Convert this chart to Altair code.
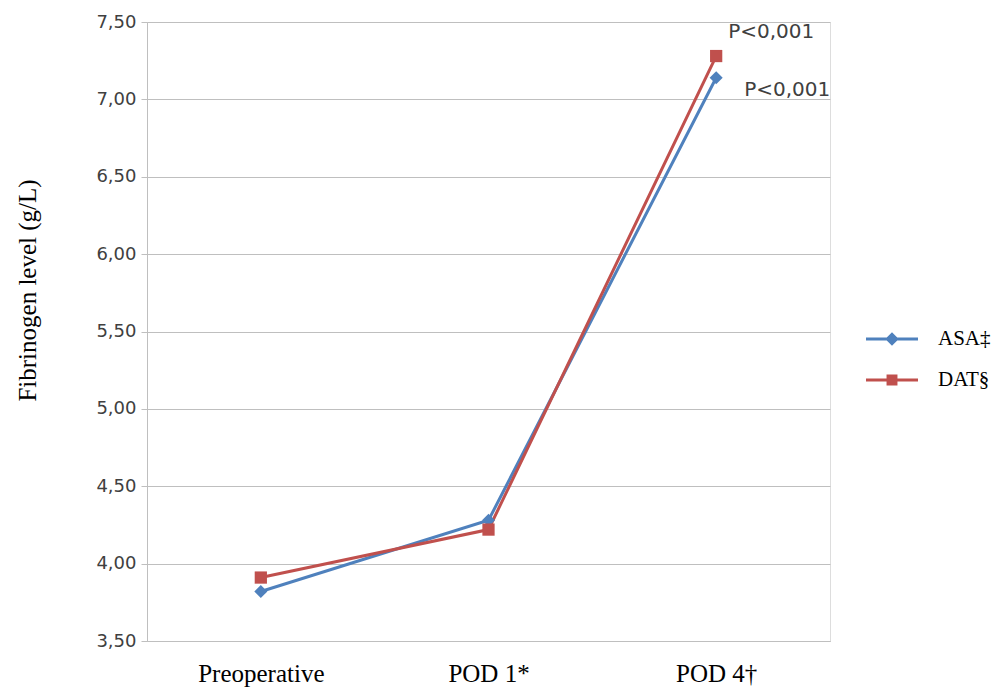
import altair as alt
import pandas as pd

categories = ["Preoperative", "POD 1*", "POD 4†"]
series_names = ["ASA‡", "DAT§"]
asa_values = [3.82, 4.28, 7.14]
dat_values = [3.91, 4.22, 7.28]
colors = ["#4F81BD", "#C0504D"]

ann_series = ["DAT§", "ASA‡"]
ann_text = ["P<0,001", "P<0,001"]

rows = []
for s, vals in zip(series_names, [asa_values, dat_values]):
    for c, v in zip(categories, vals):
        rows.append({"time": c, "series": s, "value": v})
df = pd.DataFrame(rows)

ann_rows = []
for s, t in zip(ann_series, ann_text):
    v = (asa_values if s == "ASA‡" else dat_values)[2]
    ann_rows.append({"time": categories[2], "series": s, "value": v, "label": t})
ann_df = pd.DataFrame(ann_rows)

leg_paths = [
    "M-1,-0.06H1V0.06H-1Z M0,-0.26L0.26,0L0,0.26L-0.26,0Z",
    "M-1,-0.06H1V0.06H-1Z M-0.21,-0.21H0.21V0.21H-0.21Z",
]

x_enc = alt.X("time:N", sort=categories, title=None,
              axis=alt.Axis(labelAngle=0, labelFont="Liberation Serif", labelFontSize=25,
                            labelColor="#000000", labelPadding=20, ticks=False,
                            domain=True, domainColor="#BFBFBF", grid=False))
y_enc = alt.Y("value:Q", scale=alt.Scale(domain=[3.5, 7.5], nice=False, zero=False),
              title="Fibrinogen level (g/L)",
              axis=alt.Axis(values=[3.5, 4.0, 4.5, 5.0, 5.5, 6.0, 6.5, 7.0, 7.5],
                            labelExpr="replace(format(datum.value, '.2f'), '.', ',')",
                            labelFont="DejaVu Sans", labelFontSize=18, labelColor="#404040",
                            labelPadding=5, tickSize=6, tickColor="#BFBFBF",
                            domainColor="#BFBFBF", gridColor="#BFBFBF", gridWidth=1,
                            titleFont="Liberation Serif", titleFontSize=25,
                            titleFontWeight="normal", titleColor="#000000",
                            titleX=-120, titleY=268, titleAngle=270,
                            titleAlign="center", titleBaseline="middle"))
color_scale = alt.Scale(domain=series_names, range=colors)

legend_cfg = dict(title=None, orient="none", legendX=719, legendY=291,
                  labelFont="Liberation Serif", labelFontSize=21,
                  labelColor="#000000", symbolSize=2704,
                  symbolOpacity=1, symbolStrokeWidth=0,
                  labelOffset=20, rowPadding=5, labelLimit=200)

base = alt.Chart(df)

lines = base.mark_line(strokeWidth=3).encode(
    x=x_enc, y=y_enc,
    color=alt.Color("series:N", scale=color_scale, legend=alt.Legend(**legend_cfg)),
    shape=alt.Shape("series:N", scale=alt.Scale(domain=series_names, range=leg_paths),
                    legend=alt.Legend(**legend_cfg)),
)

pts_asa = base.mark_point(shape="diamond", filled=True, size=170, opacity=1).encode(
    x=x_enc, y=y_enc,
    color=alt.Color("series:N", scale=color_scale, legend=None),
).transform_filter(alt.datum.series == series_names[0])

pts_dat = base.mark_point(shape="square", filled=True, size=150, opacity=1).encode(
    x=x_enc, y=y_enc,
    color=alt.Color("series:N", scale=color_scale, legend=None),
).transform_filter(alt.datum.series == series_names[1])

ann_base = alt.Chart(ann_df)
ann_dat = ann_base.mark_text(align="left", baseline="middle", dx=12, dy=-24,
                             font="DejaVu Sans", fontSize=20, color="#404040").encode(
    x=alt.X("time:N", sort=categories), y="value:Q", text="label:N"
).transform_filter(alt.datum.series == ann_series[0])
ann_asa = ann_base.mark_text(align="left", baseline="middle", dx=28, dy=12,
                             font="DejaVu Sans", fontSize=20, color="#404040").encode(
    x=alt.X("time:N", sort=categories), y="value:Q", text="label:N"
).transform_filter(alt.datum.series == ann_series[1])

chart = alt.layer(lines, pts_asa, pts_dat, ann_dat, ann_asa).properties(
    width=683, height=619,
    autosize=alt.AutoSizeParams(type="none"),
    padding={"left": 139, "top": 14, "right": 166, "bottom": 52},
).configure_view(stroke=None).configure(background="white")

chart.save("out.html", embed_options={"renderer": "svg", "actions": False})
